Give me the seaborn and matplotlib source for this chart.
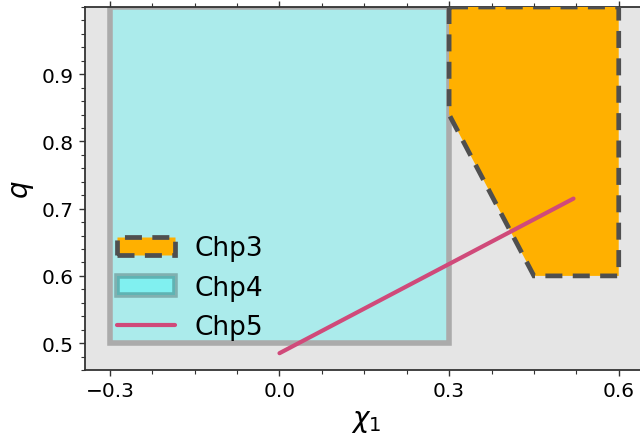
import matplotlib
matplotlib.use('Agg')
import matplotlib.pyplot as plt
from matplotlib.patches import Patch
from matplotlib.ticker import AutoMinorLocator
import seaborn as sns
import pandas as pd

# Region outlines
chp3_x = [0.3, 0.3, 0.45, 0.6, 0.6]
chp3_q = [1.0, 0.84, 0.60, 0.60, 1.0]
chp4_x = [-0.3, -0.3, 0.3, 0.3]
chp4_q = [0.5, 1.0, 1.0, 0.5]
chp5_x = [0.0, 0.52]
chp5_q = [0.485, 0.715]

x_ticks = [-0.3, 0.0, 0.3, 0.6]
q_ticks = [0.5, 0.6, 0.7, 0.8, 0.9]

sns.set_style('ticks', {'axes.facecolor': '#e5e5e5'})
plt.rcParams['font.family'] = ['DejaVu Sans']
plt.rcParams['text.color'] = 'black'
plt.rcParams['axes.labelcolor'] = 'black'

fig = plt.figure(figsize=(6.4, 4.39), dpi=100)
ax = fig.add_axes([85 / 640, 68 / 439, 562 / 640, 363 / 439])

# Chp4: translucent cyan box with grey outline
ax.fill(chp4_x, chp4_q, facecolor=(0, 1, 1, 0.25), edgecolor='none', zorder=2)
ax.fill(chp4_x, chp4_q, facecolor='none', edgecolor='#ababab', linewidth=4,
        joinstyle='miter', zorder=2)
chp4 = Patch(facecolor=(0, 1, 1, 0.25), edgecolor=(0, 0, 0, 0.25), linewidth=4)

# Chp3: orange region with dashed outline
chp3 = ax.fill(chp3_x, chp3_q, facecolor='#ffb000', edgecolor='#4f4f4f',
               linewidth=3.4, linestyle=(0, (3.6, 2.2)), label='Chp3', zorder=3)[0]

# Chp5: line
df5 = pd.DataFrame({'x': chp5_x, 'q': chp5_q})
sns.lineplot(data=df5, x='x', y='q', ax=ax, color='#d04a7a', linewidth=3,
             label='Chp5', zorder=4)
chp5 = ax.get_lines()[-1]

ax.set_xlim(-0.344, 0.65)
ax.set_ylim(0.46, 1.0)
ax.set_xticks(x_ticks)
ax.set_xticklabels(['\u22120.3', '0.0', '0.3', '0.6'])
ax.set_yticks(q_ticks)
ax.xaxis.set_minor_locator(AutoMinorLocator(4))
ax.yaxis.set_minor_locator(AutoMinorLocator(5))
ax.tick_params(which='both', top=True, direction='out', colors='#333333',
               labelcolor='black', labelsize=14.5)
ax.tick_params(which='major', length=4.5, width=1)
ax.tick_params(which='minor', length=3, width=0.8)
for s in ax.spines.values():
    s.set_color('#333333')
    s.set_linewidth(1.3)
ax.spines['right'].set_visible(False)

ax.set_xlabel(r'$\chi_1$', fontsize=20, color='black')
ax.set_ylabel(r'$q$', fontsize=20, color='black')

leg = ax.legend(handles=[chp3, chp4, chp5], labels=['Chp3', 'Chp4', 'Chp5'],
                loc='lower left', bbox_to_anchor=(0.057, 0.083), borderaxespad=0,
                borderpad=0, frameon=False, fontsize=19, labelspacing=0.5,
                handlelength=2.2, handletextpad=0.75)
for t in leg.get_texts():
    t.set_color('black')

fig.savefig('out.png', dpi=100)
